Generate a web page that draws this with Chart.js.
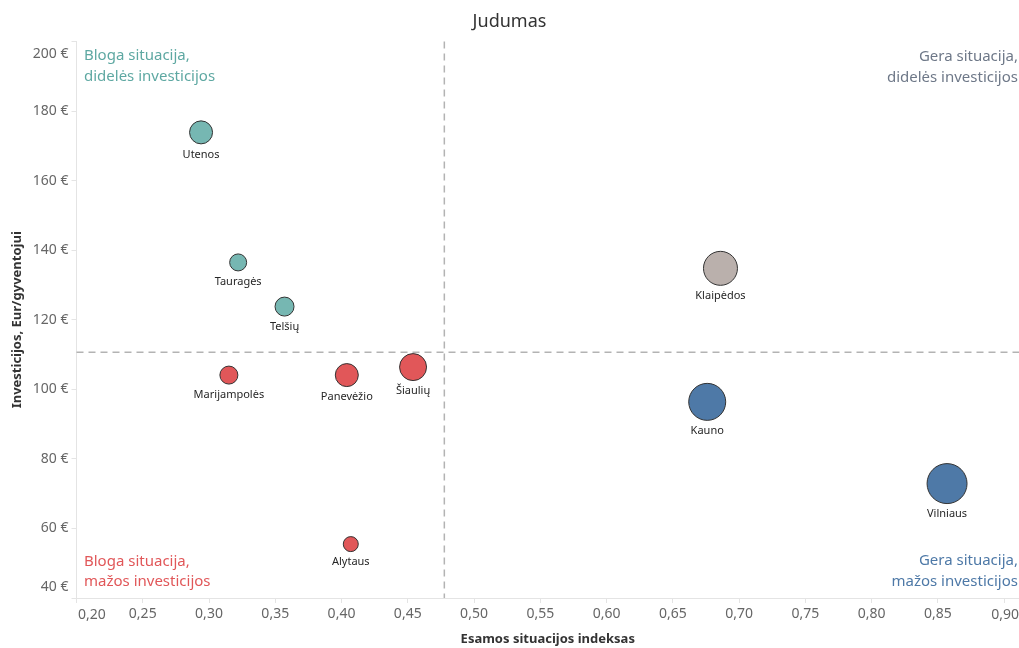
<!DOCTYPE html>
<html>
<head>
<meta charset="utf-8">
<script src="https://cdn.jsdelivr.net/npm/chart.js@4.4.0/dist/chart.umd.min.js"></script>
<style>
html, body { margin: 0; padding: 0; background: #fff; }
</style>
</head>
<body>
<canvas id="chart" width="1019" height="648"></canvas>
<script>
// ======================================================
// DATA
// ======================================================

const regions = ["Utenos", "Tauragės", "Telšių", "Marijampolės", "Panevėžio",
    "Šiaulių", "Alytaus", "Klaipėdos", "Kauno", "Vilniaus"];

// current situation index (x)
const indexValues = [0.294, 0.322, 0.357, 0.315, 0.404, 0.454, 0.407, 0.686, 0.676, 0.857];

// investment, EUR per inhabitant (y)
const investValues = [173.9, 136.5, 123.8, 104.1, 104.1, 106.4, 55.5, 134.8, 96.4, 72.9];

// bubble radius (px)
const bubbleSizes = [11.5, 8.5, 9.5, 9, 11.5, 13.5, 7.5, 17, 18.5, 20];

const groups = ["teal", "teal", "teal", "red", "red", "red", "red", "gray", "blue", "blue"];

// reference lines (averages)
const avgIndex = 0.4776;
const avgInvest = 110.65;

const xMin = 0.20, xMax = 0.9113, xStep = 0.05;
const yMin = 40, yMax = 200, yStep = 20;

const quadrantLabels = {
    topLeft: ["Bloga situacija,", "didelės investicijos"],
    topRight: ["Gera situacija,", "didelės investicijos"],
    bottomLeft: ["Bloga situacija,", "mažos investicijos"],
    bottomRight: ["Gera situacija,", "mažos investicijos"]
};

const groupColors = {
    teal: "#76b7b2",
    red: "#e15759",
    gray: "#bab0ac",
    blue: "#4e79a7"
};

const FONT = "'Noto Sans', 'Open Sans', sans-serif";
const TICK_COLOR = "#666666";
const AXIS_COLOR = "#e4e4e4";

function fmtX(v) { return v.toFixed(2).replace(".", ","); }
function fmtY(v) { return Math.round(v) + " €"; }

const lastXTick = Math.floor((xMax - xMin) / xStep + 1e-6) * xStep + xMin;

// edge tick labels are drawn by the edgeTicks plugin, shifted inward
function isEdgeX(v) { return Math.abs(v - xMin) < 1e-6 || Math.abs(v - lastXTick) < 1e-6; }
function isEdgeY(v) { return Math.abs(v - yMin) < 1e-6 || Math.abs(v - yMax) < 1e-6; }

// ======================================================
// PLUGINS
// ======================================================

const referenceLines = {
    id: "referenceLines",
    beforeDatasetsDraw(chart) {
        const { ctx, chartArea: a, scales } = chart;
        const x = scales.x.getPixelForValue(avgIndex);
        const y = scales.y.getPixelForValue(avgInvest);
        ctx.save();
        ctx.strokeStyle = "#b3b3b3";
        ctx.lineWidth = 1.5;
        ctx.setLineDash([7, 5]);
        ctx.beginPath();
        ctx.moveTo(x, a.top);
        ctx.lineTo(x, a.bottom);
        ctx.moveTo(a.left, y);
        ctx.lineTo(a.right, y);
        ctx.stroke();
        ctx.restore();
    }
};

const edgeTicks = {
    id: "edgeTicks",
    afterDraw(chart) {
        const { ctx, chartArea: a } = chart;
        ctx.save();
        ctx.font = "14px " + FONT;
        ctx.fillStyle = TICK_COLOR;
        ctx.textBaseline = "middle";

        ctx.textAlign = "right";
        ctx.fillText(fmtY(yMax), a.left - 8, a.top + 12.5);
        ctx.fillText(fmtY(yMin), a.left - 8, a.bottom - 11);

        const ty = a.bottom + 17;
        ctx.textAlign = "left";
        ctx.fillText(fmtX(xMin), a.left + 1.5, ty);
        ctx.textAlign = "right";
        ctx.fillText(fmtX(lastXTick), a.right, ty);
        ctx.restore();
    }
};

const quadrantText = {
    id: "quadrantText",
    afterDatasetsDraw(chart) {
        const { ctx, chartArea: a } = chart;
        ctx.save();
        ctx.font = "15px " + FONT;
        ctx.textBaseline = "middle";

        ctx.textAlign = "left";
        ctx.fillStyle = "#5ea8a2";
        quadrantLabels.topLeft.forEach((t, i) => ctx.fillText(t, a.left + 7.5, a.top + 14.5 + i * 20.5));
        ctx.fillStyle = "#e15759";
        quadrantLabels.bottomLeft.forEach((t, i) => ctx.fillText(t, a.left + 7.5, a.bottom - 36.5 + i * 20.5));

        ctx.textAlign = "right";
        ctx.fillStyle = "#6e7888";
        quadrantLabels.topRight.forEach((t, i) => ctx.fillText(t, a.right - 1, a.top + 15.5 + i * 20.5));
        ctx.fillStyle = "#4e79a7";
        quadrantLabels.bottomRight.forEach((t, i) => ctx.fillText(t, a.right - 1, a.bottom - 37 + i * 20.5));
        ctx.restore();
    }
};

const pointLabels = {
    id: "pointLabels",
    afterDatasetsDraw(chart) {
        const { ctx } = chart;
        const meta = chart.getDatasetMeta(0);
        ctx.save();
        ctx.font = "11px " + FONT;
        ctx.fillStyle = "#262626";
        ctx.textAlign = "center";
        ctx.textBaseline = "middle";
        meta.data.forEach((pt, i) => {
            ctx.fillText(regions[i], pt.x, pt.y + bubbleSizes[i] + 10.5);
        });
        ctx.restore();
    }
};

// ======================================================
// CHART
// ======================================================

const points = regions.map((r, i) => ({ x: indexValues[i], y: investValues[i], r: bubbleSizes[i] }));

new Chart(document.getElementById("chart").getContext("2d"), {

    type: "bubble",

    data: {
        datasets: [
            {
                label: "Judumas",
                data: points,
                backgroundColor: groups.map(g => groupColors[g]),
                borderColor: "#333333",
                borderWidth: 1,
                hoverRadius: 0
            }
        ]
    },

    options: {
        responsive: false,
        animation: false,
        events: [],
        layout: { padding: 0, autoPadding: false },
        plugins: {
            legend: { display: false },
            tooltip: { enabled: false },
            title: {
                display: true,
                text: "Judumas",
                color: "#333333",
                font: { family: FONT, size: 18, weight: "normal", lineHeight: 1.2 },
                padding: { top: 11, bottom: 9 }
            }
        },
        scales: {
            x: {
                type: "linear",
                min: xMin,
                max: xMax,
                afterFit(scale) {
                    scale.height = 50;
                    scale.paddingLeft = 0;
                    scale.paddingRight = 0;
                },
                ticks: {
                    stepSize: xStep,
                    includeBounds: false,
                    padding: 3,
                    maxRotation: 0,
                    font: { family: FONT, size: 14 },
                    color: TICK_COLOR,
                    callback: v => isEdgeX(v) ? "" : fmtX(v)
                },
                grid: {
                    drawOnChartArea: false,
                    drawTicks: true,
                    tickLength: 5,
                    color: AXIS_COLOR
                },
                border: { display: true, color: AXIS_COLOR },
                title: {
                    display: true,
                    text: "Esamos situacijos indeksas",
                    color: "#333333",
                    font: { family: FONT, size: 13, weight: "bold" },
                    padding: { top: 0, bottom: 1 }
                }
            },
            y: {
                type: "linear",
                min: yMin,
                max: yMax,
                afterFit(scale) {
                    scale.width = 76.5;
                    scale.paddingTop = 0;
                    scale.paddingBottom = 0;
                },
                ticks: {
                    stepSize: yStep,
                    padding: 3,
                    font: { family: FONT, size: 14 },
                    color: TICK_COLOR,
                    callback: v => isEdgeY(v) ? "" : fmtY(v)
                },
                grid: {
                    drawOnChartArea: false,
                    drawTicks: true,
                    tickLength: 5,
                    color: AXIS_COLOR
                },
                border: { display: true, color: AXIS_COLOR },
                title: {
                    display: true,
                    text: "Investicijos, Eur/gyventojui",
                    color: "#333333",
                    font: { family: FONT, size: 13, weight: "bold" },
                    padding: { top: 9, bottom: 0 }
                }
            }
        }
    },

    plugins: [referenceLines, quadrantText, pointLabels, edgeTicks]

});
</script>
</body>
</html>
